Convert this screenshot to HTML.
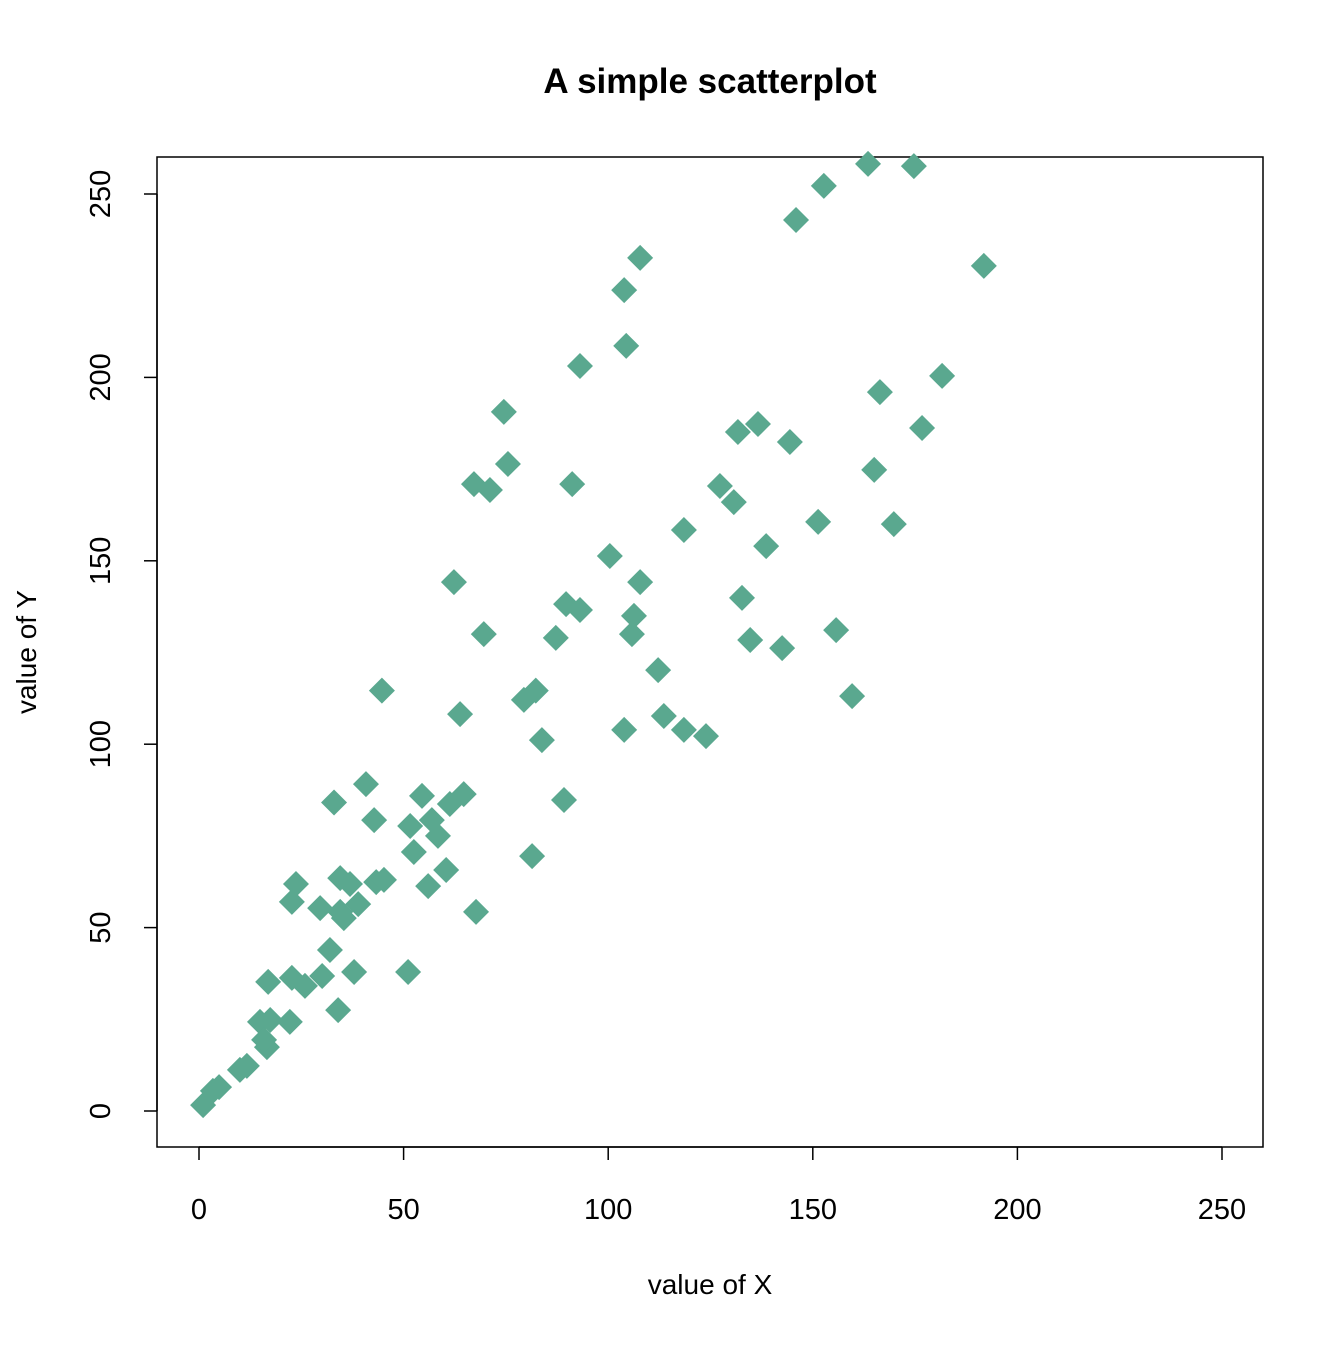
<!DOCTYPE html>
<html><head><meta charset="utf-8"><style>
body{margin:0;background:#fff}
svg text{font-family:"Liberation Sans",Arial,sans-serif;fill:#000}
</style></head><body>
<svg id="chart" width="1344" height="1344" viewBox="0 0 1344 1344" xmlns="http://www.w3.org/2000/svg">
<rect width="1344" height="1344" fill="#fff"/>
<text x="710" y="93" font-size="35" font-weight="bold" text-anchor="middle">A simple scatterplot</text>
<rect x="157" y="157" width="1106" height="990" fill="none" stroke="#000" stroke-width="1.5"/>
<g id="xaxis"></g>
<g id="yaxis"></g>
<g id="points"></g>
<text x="710" y="1294" font-size="28" text-anchor="middle">value of X</text>
<text transform="translate(36,652) rotate(-90)" font-size="28" text-anchor="middle">value of Y</text>
</svg>
<script>
const xTicks=[0,50,100,150,200,250];
const yTicks=[0,50,100,150,200,250];
const xValues=[1.0,3.4,4.9,10.0,11.7,14.9,16.6,15.9,17.4,16.9,22.2,22.7,22.7,23.7,25.9,30.1,29.6,32.0,33.0,34.0,34.5,35.4,34.5,36.9,37.9,38.9,40.8,42.8,43.3,45.2,44.7,51.1,51.6,52.5,54.5,56.0,56.9,58.4,60.4,61.3,62.3,63.8,64.7,67.2,67.7,69.6,71.1,74.5,75.5,79.4,81.4,82.3,83.8,87.2,89.2,89.7,91.2,93.1,93.1,100.4,103.9,103.9,104.4,105.8,106.3,107.8,107.8,112.2,113.6,118.5,118.5,123.9,127.3,130.7,131.7,132.7,134.7,136.6,138.6,142.5,144.4,145.9,151.3,152.7,155.7,159.6,163.5,165.0,166.4,169.8,174.7,176.7,181.6,191.8];
const yValues=[1.6,5.5,6.5,11.2,12.3,24.3,17.4,19.4,24.8,35.2,24.3,36.3,57.0,61.9,34.1,36.8,55.3,43.9,84.1,27.5,63.5,52.6,54.3,61.9,37.9,56.4,89.1,79.3,62.4,63.0,114.6,37.9,77.7,70.6,85.9,61.3,79.3,75.0,65.7,83.7,144.2,108.2,86.4,170.9,54.3,130.0,169.3,190.6,176.4,112.1,69.5,114.6,101.1,129.0,84.8,138.2,170.9,136.6,203.1,151.3,223.8,103.9,208.6,130.0,135.0,144.2,232.6,120.2,107.7,158.4,103.9,102.2,170.4,166.0,185.1,139.9,128.4,187.3,154.0,126.2,182.4,242.9,160.6,252.2,131.1,113.1,258.2,174.8,196.0,160.0,257.6,186.2,200.4,230.4];
const NS="http://www.w3.org/2000/svg";
const sx=v=>199+v*(1222-199)/250;
const sy=v=>1111-v*(1111-194)/250;
function mk(tag,attrs,parent){const e=document.createElementNS(NS,tag);for(const k in attrs)e.setAttribute(k,attrs[k]);parent.appendChild(e);return e;}
const xa=document.getElementById('xaxis'),ya=document.getElementById('yaxis'),pg=document.getElementById('points');
mk('line',{x1:sx(0),x2:sx(250),y1:1147,y2:1147,stroke:'#000','stroke-width':1.5},xa);
xTicks.forEach(t=>{
  const l=mk('line',{x1:sx(t),x2:sx(t),y1:1147,y2:1160,stroke:'#000','stroke-width':1.5},xa);
  
  
  const tx=mk('text',{x:sx(t),y:1219,'font-size':29,'text-anchor':'middle'},xa);tx.textContent=t;
  
  
});
mk('line',{x1:157,x2:157,y1:sy(0),y2:sy(250),stroke:'#000','stroke-width':1.5},ya);
yTicks.forEach(t=>{
  const l=mk('line',{x1:144,x2:157,y1:sy(t),y2:sy(t),stroke:'#000','stroke-width':1.5},ya);
  
  
  const tx=mk('text',{transform:`translate(110,${sy(t)}) rotate(-90)`,'font-size':29,'text-anchor':'middle'},ya);tx.textContent=t;
  
  
});
xValues.forEach((xv,i)=>{
  const x=sx(xv),y=sy(yValues[i]),r=13;
  const p=mk('polygon',{points:`${x},${y-r} ${x+r},${y} ${x},${y+r} ${x-r},${y}`,fill:'#5aa88f'},pg);
  
  
});
</script>
</body></html>
